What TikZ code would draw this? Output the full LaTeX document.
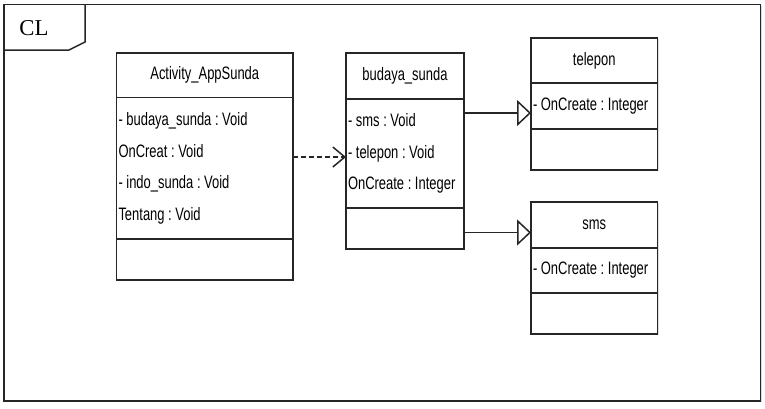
\documentclass[tikz,border=0pt]{standalone}
\usepackage{fontspec}
\setmainfont{Liberation Sans}[FakeStretch=0.72]
\newfontfamily\clfont{Liberation Serif}
\frenchspacing
\usetikzlibrary{arrows.meta, positioning, calc, shadows}
\definecolor{cline}{HTML}{262626}
\tikzset{
  every picture/.style={font=\fontsize{18}{31.7}\selectfont, line width=1.5pt},
  part/.style={draw=cline, fill=white, outer sep=0pt, inner xsep=2pt, inner ysep=0pt, text width=#1,
    drop shadow={shadow xshift=1.2pt, shadow yshift=-1.4pt, opacity=0.25}},
  ctitle/.style={part=#1, align=center},
  cattr/.style={part=#1, align=flush left},
  cmeth/.style={part=#1},
  depend/.style={-{Straight Barb[length=12pt, width=20pt]}, draw=cline, dash pattern=on 5pt off 3pt},
  inherit/.style={-{Triangle[open, length=14pt, width=26pt]}, draw=cline},
}

\begin{document}
\begin{tikzpicture}[x=1pt, y=-1pt]
  \useasboundingbox (0,0) rectangle (765,408);
  % frame and tab
  \draw[draw=cline, fill=white, drop shadow={shadow xshift=1.2pt, shadow yshift=-1.4pt, opacity=0.3}] (4,4.5) rectangle (760.5,401);
  \draw[draw=cline] (4,50) -- (69,50) -- (85,42) -- (85,4.5);
  \node[font=\clfont\fontsize{22.7}{26}\selectfont] (cl) at (34,28) {CL};
  % Activity_AppSunda
  \node[ctitle=172.5, minimum height=44.5, anchor=north west] (activity) at (116.5,53) {Activity\_AppSunda};
  \node[cattr=172.5, minimum height=141.5, below=0pt of activity] (activity-attr) {- budaya\_sunda : Void\\OnCreat : Void\\- indo\_sunda : Void\\Tentang : Void};
  \node[cmeth=172.5, minimum height=41, below=0pt of activity-attr] (activity-meth) {};
  % budaya_sunda
  \node[ctitle=114, minimum height=46, anchor=north west] (budaya) at (346,53) {budaya\_sunda};
  \node[cattr=114, minimum height=109, below=0pt of budaya] (budaya-attr) {- sms : Void\\- telepon : Void\\OnCreate : Integer};
  \node[cmeth=114, minimum height=41, below=0pt of budaya-attr] (budaya-meth) {};
  % telepon
  \node[ctitle=122.5, minimum height=45, anchor=north west] (telepon) at (531,38) {telepon};
  \node[cattr=122.5, minimum height=46, below=0pt of telepon] (telepon-attr) {- OnCreate : Integer};
  \node[cmeth=122.5, minimum height=41, below=0pt of telepon-attr] (telepon-meth) {};
  % sms
  \node[ctitle=122.5, minimum height=46, anchor=north west] (sms) at (531,202) {sms};
  \node[cattr=122.5, minimum height=45, below=0pt of sms] (sms-attr) {- OnCreate : Integer};
  \node[cmeth=122.5, minimum height=41, below=0pt of sms-attr] (sms-meth) {};
  % connectors
  \draw[depend] ($(activity-attr.east |- budaya-attr.west)+(0,3.5)$) -- ($(budaya-attr.west)+(0,3.5)$);
  \draw[inherit] ($(budaya-attr.east |- telepon-attr.west)+(0,7)$) -- ($(telepon-attr.west)+(0,7)$);
  \draw[inherit] ($(budaya-meth.east |- sms.west)+(0,7.5)$) -- ($(sms.west)+(0,7.5)$);
\end{tikzpicture}
\end{document}
